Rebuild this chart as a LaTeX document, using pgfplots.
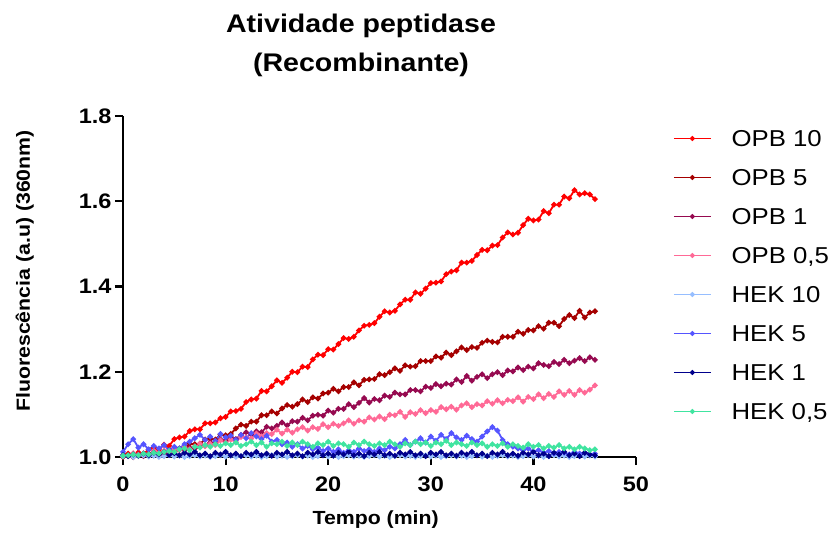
\documentclass[border=0pt]{standalone}
\usepackage{fontspec}
\setmainfont{Liberation Sans}[FakeStretch=1.12]
\usepackage{pgfplots}
\usepackage{pgfplotstable}
\pgfplotsset{compat=1.18}
\definecolor{opbA}{RGB}{255,0,0}
\definecolor{opbB}{RGB}{165,0,0}
\definecolor{opbC}{RGB}{150,10,80}
\definecolor{opbD}{RGB}{255,105,150}
\definecolor{hekA}{RGB}{150,190,255}
\definecolor{hekB}{RGB}{85,85,255}
\definecolor{hekC}{RGB}{0,0,140}
\definecolor{hekD}{RGB}{64,228,160}
\pgfplotstableread{
t R D M P L B N A
0 1.003 1.000 1.002 1.004 1.001 1.012 1.004 1.003
0.5 1.008 1.004 1.004 1.002 1.003 1.030 1.002 1.004
1 1.003 1.000 1.000 1.009 1.000 1.042 1.006 1.006
1.5 1.011 1.005 1.006 1.005 1.002 1.022 1.003 1.004
2 1.008 1.003 1.002 1.009 1.004 1.030 1.008 1.008
2.5 1.017 1.008 1.005 1.006 1.001 1.018 1.004 1.006
3 1.021 1.004 1.008 1.015 1.003 1.026 1.010 1.010
3.5 1.017 1.009 1.003 1.010 1.000 1.020 1.006 1.008
4 1.029 1.008 1.008 1.015 1.002 1.028 1.012 1.012
4.5 1.026 1.016 1.012 1.011 1.004 1.016 1.005 1.014
5 1.042 1.013 1.010 1.018 1.001 1.024 1.009 1.012
5.5 1.046 1.020 1.018 1.016 1.003 1.020 1.004 1.018
6 1.048 1.020 1.016 1.023 1.000 1.030 1.010 1.020
6.5 1.061 1.031 1.022 1.018 1.002 1.036 1.006 1.016
7 1.065 1.030 1.020 1.025 1.004 1.044 1.012 1.024
7.5 1.065 1.031 1.031 1.031 1.001 1.052 1.004 1.022
8 1.079 1.041 1.027 1.025 1.003 1.040 1.008 1.028
8.5 1.079 1.042 1.034 1.031 1.000 1.048 1.002 1.024
9 1.081 1.041 1.031 1.028 1.002 1.038 1.010 1.030
9.5 1.091 1.053 1.041 1.039 1.004 1.054 1.006 1.026
10 1.094 1.051 1.038 1.034 1.001 1.046 1.012 1.032
10.5 1.107 1.054 1.047 1.041 1.003 1.050 1.004 1.028
11 1.108 1.067 1.042 1.035 1.000 1.040 1.008 1.034
11.5 1.113 1.076 1.052 1.047 1.002 1.052 1.002 1.026
12 1.129 1.073 1.058 1.046 1.004 1.044 1.010 1.030
12.5 1.135 1.083 1.053 1.043 1.001 1.056 1.006 1.036
13 1.137 1.083 1.060 1.055 1.003 1.048 1.012 1.028
13.5 1.155 1.098 1.058 1.048 1.000 1.042 1.004 1.034
14 1.154 1.098 1.071 1.056 1.002 1.050 1.008 1.024
14.5 1.166 1.107 1.067 1.054 1.004 1.036 1.003 1.032
15 1.180 1.102 1.073 1.064 1.001 1.040 1.010 1.030
15.5 1.174 1.114 1.081 1.055 1.003 1.030 1.006 1.036
16 1.186 1.122 1.074 1.064 1.000 1.034 1.012 1.026
16.5 1.200 1.118 1.084 1.057 1.002 1.024 1.004 1.034
17 1.199 1.124 1.083 1.065 1.004 1.030 1.008 1.028
17.5 1.212 1.135 1.092 1.070 1.001 1.020 1.002 1.036
18 1.211 1.129 1.086 1.062 1.003 1.026 1.010 1.030
18.5 1.229 1.140 1.097 1.070 1.000 1.018 1.006 1.024
19 1.240 1.137 1.099 1.066 1.002 1.022 1.012 1.032
19.5 1.239 1.149 1.097 1.077 1.004 1.014 1.004 1.028
20 1.253 1.151 1.109 1.070 1.001 1.020 1.008 1.036
20.5 1.252 1.160 1.104 1.078 1.003 1.012 1.003 1.026
21 1.265 1.154 1.113 1.073 1.000 1.018 1.010 1.032
21.5 1.279 1.164 1.113 1.079 1.002 1.010 1.006 1.030
22 1.277 1.164 1.124 1.086 1.004 1.016 1.012 1.024
22.5 1.282 1.175 1.117 1.078 1.001 1.012 1.004 1.034
23 1.297 1.168 1.127 1.086 1.003 1.020 1.008 1.028
23.5 1.308 1.181 1.138 1.083 1.000 1.014 1.002 1.036
24 1.310 1.182 1.128 1.093 1.002 1.018 1.010 1.030
24.5 1.314 1.183 1.136 1.088 1.004 1.012 1.006 1.026
25 1.329 1.194 1.133 1.095 1.001 1.020 1.012 1.032
25.5 1.342 1.192 1.144 1.089 1.003 1.016 1.004 1.028
26 1.339 1.199 1.141 1.099 1.000 1.024 1.008 1.036
26.5 1.343 1.208 1.151 1.098 1.002 1.020 1.003 1.030
27 1.358 1.202 1.147 1.106 1.004 1.030 1.010 1.024
27.5 1.369 1.215 1.147 1.094 1.001 1.040 1.006 1.032
28 1.369 1.212 1.157 1.105 1.003 1.028 1.012 1.028
28.5 1.386 1.213 1.157 1.101 1.000 1.036 1.004 1.036
29 1.383 1.225 1.154 1.110 1.002 1.044 1.008 1.030
29.5 1.395 1.225 1.165 1.103 1.004 1.034 1.002 1.034
30 1.408 1.225 1.162 1.110 1.001 1.048 1.010 1.026
30.5 1.409 1.236 1.171 1.106 1.003 1.038 1.006 1.034
31 1.412 1.233 1.166 1.117 1.000 1.052 1.012 1.030
31.5 1.429 1.245 1.172 1.112 1.002 1.042 1.004 1.038
32 1.435 1.239 1.170 1.118 1.004 1.056 1.008 1.028
32.5 1.438 1.248 1.182 1.111 1.001 1.046 1.003 1.034
33 1.456 1.257 1.176 1.121 1.003 1.040 1.010 1.030
33.5 1.456 1.251 1.190 1.126 1.000 1.050 1.006 1.026
34 1.460 1.258 1.179 1.117 1.002 1.042 1.012 1.034
34.5 1.474 1.256 1.188 1.124 1.004 1.036 1.004 1.028
35 1.486 1.268 1.194 1.121 1.001 1.048 1.008 1.032
35.5 1.485 1.273 1.185 1.131 1.003 1.060 1.002 1.024
36 1.496 1.270 1.194 1.125 1.000 1.070 1.010 1.030
36.5 1.497 1.269 1.199 1.133 1.002 1.062 1.006 1.026
37 1.515 1.282 1.192 1.126 1.004 1.040 1.012 1.032
37.5 1.527 1.282 1.203 1.134 1.001 1.030 1.004 1.024
38 1.522 1.282 1.201 1.131 1.003 1.024 1.008 1.030
38.5 1.526 1.294 1.210 1.140 1.000 1.020 1.003 1.026
39 1.544 1.289 1.204 1.130 1.002 1.016 1.010 1.022
39.5 1.559 1.298 1.212 1.141 1.004 1.020 1.006 1.030
40 1.555 1.297 1.208 1.136 1.001 1.012 1.012 1.024
40.5 1.557 1.307 1.220 1.147 1.003 1.016 1.004 1.028
41 1.577 1.301 1.216 1.138 1.000 1.010 1.008 1.020
41.5 1.572 1.315 1.213 1.148 1.002 1.014 1.002 1.026
42 1.592 1.315 1.223 1.141 1.004 1.008 1.010 1.022
42.5 1.592 1.307 1.218 1.154 1.001 1.012 1.006 1.028
43 1.611 1.324 1.228 1.146 1.003 1.010 1.012 1.020
43.5 1.607 1.333 1.220 1.155 1.000 1.006 1.004 1.024
44 1.626 1.326 1.226 1.146 1.002 1.012 1.008 1.018
44.5 1.616 1.343 1.232 1.157 1.004 1.008 1.002 1.024
45 1.619 1.327 1.225 1.151 1.001 1.010 1.010 1.020
45.5 1.616 1.339 1.234 1.158 1.003 1.006 1.006 1.016
46 1.605 1.342 1.228 1.168 1.001 1.008 1.004 1.018
}\datatable
\begin{document}
\begin{tikzpicture}
\path[use as bounding box] (0,0) rectangle (837pt,533pt);
\node[font=\fontsize{25.5}{30}\selectfont\bfseries, anchor=base] at (361pt,500pt) {Atividade peptidase};
\node[font=\fontsize{25.5}{30}\selectfont\bfseries, anchor=base] at (361pt,461pt) {(Recombinante)};
\begin{axis}[
  at={(123pt,76pt)}, anchor=south west,
  width=513pt, height=341pt, scale only axis,
  xmin=0, xmax=50, ymin=1, ymax=1.8,
  xtick={0,10,20,30,40,50},
  ytick={1.0,1.2,1.4,1.6,1.8},
  axis x line*=bottom, axis y line*=left,
  axis line style={line width=2.2pt, -},
  tick align=outside,
  major tick length=8pt,
  every tick/.style={line width=2.2pt, black},
  minor tick num=0,
  /pgf/number format/assume math mode=true,
  tick label style={font=\fontsize{21}{24}\selectfont\bfseries},
  xticklabel style={yshift=-8pt},
  yticklabel style={/pgf/number format/.cd, fixed, fixed zerofill, precision=1},
  xlabel={Tempo (min)},
  ylabel={Fluorescência (a.u) (360nm)},
  xlabel style={at={(axis description cs:0.4926,-0.1994)}, anchor=base, font=\fontsize{19}{22}\selectfont\bfseries},
  ylabel style={at={(axis description cs:-0.1813,0.5455)}, anchor=base, font=\fontsize{19}{22}\selectfont\bfseries},
  clip=false,
  every axis plot/.append style={line width=1.8pt, mark=*, mark size=1.8pt},
  legend cell align=left,
  legend image code/.code={\draw[mark repeat=2,mark phase=2, line width=1.6pt, mark size=1.6pt] plot coordinates {(0pt,0pt) (18.5pt,0pt) (37pt,0pt)};},
  legend style={at={(1.0721,0.9582)}, anchor=north west, draw=none, fill=none,
    inner sep=0pt, outer sep=0pt, row sep=22.5pt, column sep=20pt,
    nodes={inner sep=0pt, text height=16.5pt, text depth=0pt, font=\fontsize{23}{27}\selectfont}},
]
\addplot[color=opbA] table[x=t, y=R] {\datatable};
\addlegendentry{OPB 10}
\addplot[color=opbB] table[x=t, y=D] {\datatable};
\addlegendentry{OPB 5}
\addplot[color=opbC] table[x=t, y=M] {\datatable};
\addlegendentry{OPB 1}
\addplot[color=opbD] table[x=t, y=P] {\datatable};
\addlegendentry{OPB 0,5}
\addplot[color=hekA] table[x=t, y=L] {\datatable};
\addlegendentry{HEK 10}
\addplot[color=hekB] table[x=t, y=B] {\datatable};
\addlegendentry{HEK 5}
\addplot[color=hekC] table[x=t, y=N] {\datatable};
\addlegendentry{HEK 1}
\addplot[color=hekD] table[x=t, y=A] {\datatable};
\addlegendentry{HEK 0,5}
\end{axis}
\end{tikzpicture}
\end{document}
